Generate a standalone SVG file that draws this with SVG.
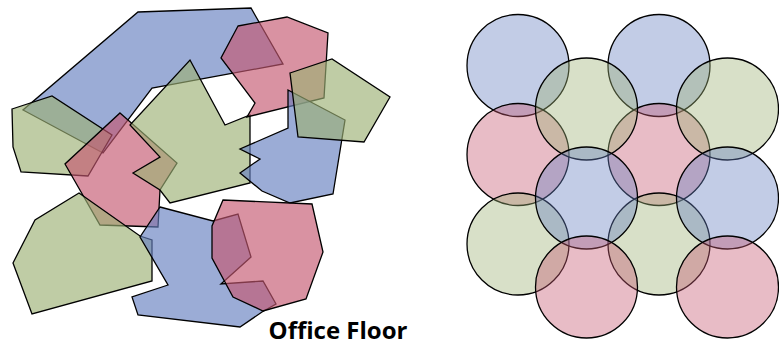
<svg xmlns="http://www.w3.org/2000/svg" width="779" height="347" viewBox="0 0 779 347">
<style>
.poly{stroke:#000;stroke-width:1.3;stroke-linejoin:miter;fill-opacity:0.65}
.circ{stroke:#000;stroke-width:1.3;fill-opacity:0.4}
.b{fill:#667fc0}
.g{fill:#9db175}
.p{fill:#c55770}
.title{font-family:"Open Sans","Liberation Sans",sans-serif;font-weight:bold;font-size:24px;fill:#000}
</style>
<rect width="779" height="347" fill="#fff"/>
<g id="floor-left">
<g id="B1"><polygon class="poly b" points="138,12 251,8 283,64 152,88 103,153 23,110"/></g>
<g id="L1"><polygon class="poly g" points="12,109 52,96 112,135 88,176 21,172 13,147"/></g>
<g id="P1"><polygon class="poly p" points="120,113 177,163 160,190 158,227 100,225 65,164"/></g>
<g id="L4"><polygon class="poly g" points="190,60 225,125 250,115 250,183 170,203 160,190 133,173 160,157 130,125"/></g>
<g id="P2"><polygon class="poly p" points="238,26 287,17 328,33 324,98 247,117 255,103 221,58"/></g>
<g id="B2"><polygon class="poly b" points="288,90 345,120 333,194 290,203 262,191 240,173 260,159 240,149 288,128"/></g>
<g id="L5"><polygon class="poly g" points="290,73 332,59 390,97 364,142 298,137"/></g>
<g id="L3"><polygon class="poly g" points="79,193 35,220 13,263 32,314 152,281 152,240 140,236"/></g>
<g id="B3"><polygon class="poly b" points="160,207 213,221 238,214 251,257 221,284 263,281 276,304 262,312 240,327 138,315 132,297 168,285 140,237"/></g>
<g id="P3"><polygon class="poly p" points="223,200 312,204 323,252 306,299 263,311 233,297 212,258 212,226"/></g>
</g>
<g id="floor-right">
<g id="C1"><circle class="circ b" cx="518" cy="65.5" r="51"/></g>
<g id="C2"><circle class="circ b" cx="659" cy="65.5" r="51"/></g>
<g id="C3"><circle class="circ p" cx="518" cy="154.5" r="51"/></g>
<g id="C4"><circle class="circ p" cx="659" cy="154.5" r="51"/></g>
<g id="C5"><circle class="circ g" cx="518" cy="244" r="51"/></g>
<g id="C6"><circle class="circ g" cx="659" cy="244" r="51"/></g>
<g id="C7"><circle class="circ g" cx="586.5" cy="109" r="51"/></g>
<g id="C8"><circle class="circ g" cx="727.5" cy="109" r="51"/></g>
<g id="C9"><circle class="circ b" cx="586.5" cy="198" r="51"/></g>
<g id="C10"><circle class="circ b" cx="727.5" cy="198" r="51"/></g>
<g id="C11"><circle class="circ p" cx="586.5" cy="287" r="51"/></g>
<g id="C12"><circle class="circ p" cx="727.5" cy="287" r="51"/></g>
</g>
<g id="caption"><text class="title" x="338" y="339" text-anchor="middle">Office Floor</text></g>
</svg>
